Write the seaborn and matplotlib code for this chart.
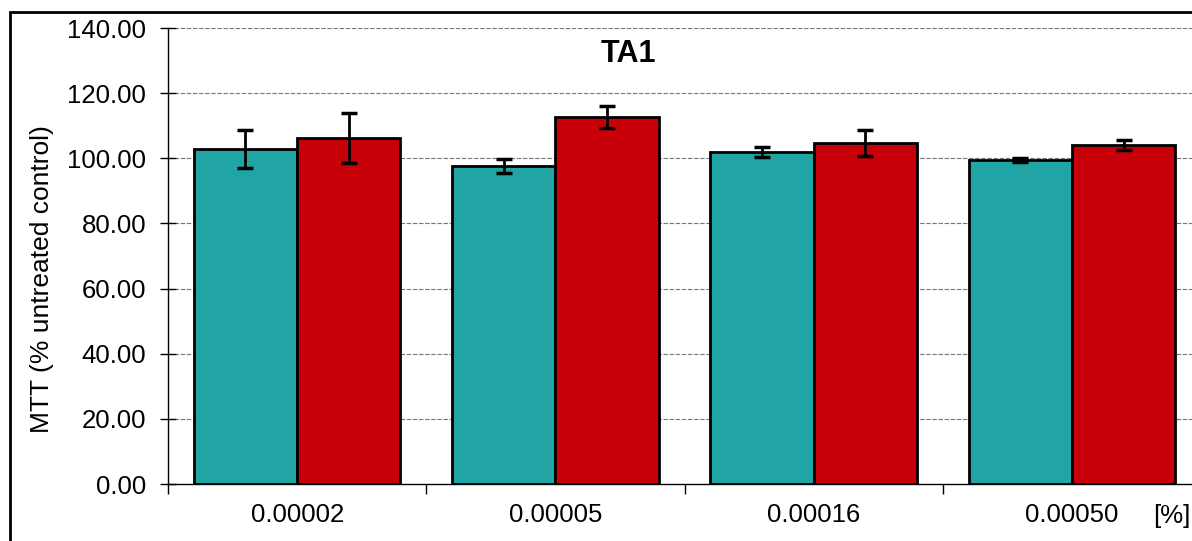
import numpy as np
import pandas as pd
import seaborn as sns
import matplotlib.pyplot as plt
from matplotlib.patches import Rectangle

concentrations = ["0.00002", "0.00005", "0.00016", "0.00050"]
series_a = [102.9, 97.6, 101.9, 99.5]
err_a = [5.8, 2.2, 1.5, 0.7]
series_b = [106.2, 112.7, 104.7, 104.1]
err_b = [7.8, 3.5, 4.0, 1.5]

data = pd.DataFrame({
    "conc": concentrations * 2,
    "value": series_a + series_b,
    "err": err_a + err_b,
    "group": ["A"] * 4 + ["B"] * 4,
})

sns.set_style("white")
plt.rcParams["font.family"] = ["Liberation Sans", "DejaVu Sans"]
plt.rcParams["text.color"] = "black"
plt.rcParams["xtick.color"] = "black"
plt.rcParams["ytick.color"] = "black"
plt.rcParams["axes.labelcolor"] = "black"

fig = plt.figure(figsize=(11.92, 5.41), dpi=100)
ax = fig.add_axes([168 / 1192, 57 / 541, 1033 / 1192, 456 / 541])

for y in np.arange(20, 141, 20):
    ax.axhline(y, color="#777777", lw=0.8, ls=(0, (4, 1.5)), zorder=0)

sns.barplot(data=data, x="conc", y="value", hue="group", order=concentrations,
            palette={"A": "#20A4A4", "B": "#C8000A"}, saturation=1,
            edgecolor="black", linewidth=2, errorbar=None, legend=False,
            width=0.8, ax=ax, zorder=2)

# error bars at bar centres
for bar, (_, row) in zip(ax.patches, data.iterrows()):
    cx = bar.get_x() + bar.get_width() / 2
    ax.errorbar(cx, row["value"], yerr=row["err"], fmt="none", ecolor="black",
                elinewidth=2, capsize=6, capthick=2.5, zorder=3)

ax.set_xlim(-0.5, 3.5)
ax.set_ylim(0, 140)
ax.set_yticks(np.arange(0, 141, 20))
ax.set_yticklabels([f"{v:.2f}" for v in np.arange(0, 141, 20)])
ax.set_xticks(range(4))
ax.set_xticks(np.arange(-0.5, 4, 1), minor=True)
ax.tick_params(axis="x", which="major", length=0, pad=14, labelsize=18.5)
ax.tick_params(axis="x", which="minor", length=7, width=1, direction="out", bottom=True)
ax.tick_params(axis="y", length=11.5, width=1, direction="inout", left=True,
               labelsize=18.5, pad=10)
ax.set_xlabel("")
ax.set_ylabel("MTT (% untreated control)", fontsize=19)
ax.yaxis.set_label_coords((54 - 168) / 1033, (484 - 279) / 456)

for side in ["top", "right"]:
    ax.spines[side].set_visible(False)
for side in ["left", "bottom"]:
    ax.spines[side].set_color("black")
    ax.spines[side].set_linewidth(1)

fig.text(628 / 1192, 1 - 54 / 541, "TA1", fontsize=22, fontweight="bold",
         ha="center", va="center")
fig.text(1172 / 1192, 1 - 516 / 541, "[%]", fontsize=18.5, ha="center", va="center")

fig.patches.append(Rectangle((10 / 1192, -0.1), 1.2, 1 - 12 / 541 + 0.1,
                             transform=fig.transFigure, fill=False,
                             edgecolor="black", lw=2))

fig.savefig("out.png", dpi=100)
